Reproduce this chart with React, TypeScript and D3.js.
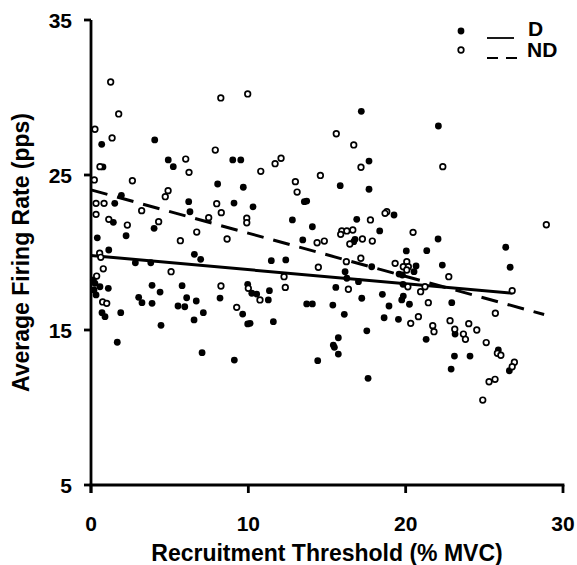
import React from "react";
import * as d3 from "d3";

// Motor unit data: recruitment threshold (% MVC) vs average firing rate (pps)
const dX = [0.68, 4.05, 4.91, 5.23, 9.01, 9.52, 17.18, 17.67, 22.08, 0.76, 8.05, 9.68, 1.93, 1.51, 6.21, 9.09, 6.29, 1.42, 4.01, 2.23, 0.40, 1.13, 6.57, 6.97, 2.82, 3.80, 0.15, 0.25, 0.57, 0.32, 0.19, 1.10, 3.88, 4.39, 5.79, 9.96, 3.03, 3.24, 3.88, 6.08, 5.53, 5.96, 6.69, 8.20, 7.14, 6.55, 4.45, 1.89, 0.70, 0.89, 9.64, 9.96, 15.84, 17.67, 13.56, 13.71, 10.30, 12.80, 14.07, 19.26, 16.89, 18.35, 16.78, 16.70, 13.46, 20.04, 11.46, 12.38, 17.84, 16.15, 16.26, 19.58, 19.79, 17.00, 19.83, 15.56, 10.22, 10.53, 11.34, 11.27, 18.52, 19.85, 19.75, 17.21, 13.71, 14.07, 15.37, 18.94, 20.24, 16.10, 18.63, 19.54, 11.59, 10.11, 17.53, 15.72, 15.40, 15.47, 15.72, 14.41, 17.61, 1.67, 7.06, 9.11, 22.06, 21.34, 26.36, 26.64, 22.33, 20.66, 20.53, 22.93, 21.30, 23.14, 23.10, 24.09, 22.89, 25.89, 26.59];
const dY = [26.98, 27.26, 25.97, 25.54, 25.97, 25.97, 29.11, 25.90, 28.16, 25.52, 24.42, 24.21, 23.69, 23.17, 23.28, 23.19, 22.63, 21.95, 21.56, 21.08, 20.95, 20.16, 19.88, 19.56, 19.34, 19.34, 18.23, 18.01, 17.79, 17.26, 17.58, 17.69, 17.88, 17.45, 17.86, 17.95, 17.11, 16.76, 16.72, 17.08, 16.55, 16.50, 16.87, 17.06, 16.12, 15.65, 15.30, 16.12, 16.12, 15.86, 16.03, 15.39, 24.31, 24.08, 23.28, 23.32, 22.95, 22.10, 21.66, 22.42, 22.14, 21.39, 20.85, 20.70, 20.81, 20.10, 19.47, 19.52, 19.08, 18.76, 18.34, 18.61, 18.55, 18.12, 17.95, 17.75, 17.37, 17.32, 17.54, 16.94, 17.30, 17.19, 16.94, 17.05, 16.68, 16.68, 16.61, 16.55, 16.66, 16.01, 15.79, 15.69, 15.54, 15.43, 14.95, 14.50, 14.03, 13.88, 13.45, 13.02, 11.88, 14.21, 13.54, 13.06, 20.87, 20.12, 20.34, 19.05, 19.19, 19.13, 18.76, 16.76, 14.40, 14.74, 13.32, 13.32, 12.48, 13.71, 12.37];

const ndX = [1.25, 1.76, 0.25, 1.34, 0.57, 6.02, 6.23, 8.25, 9.96, 7.90, 15.59, 16.70, 12.08, 11.70, 10.79, 14.58, 17.16, 22.36, 0.21, 2.63, 4.90, 4.72, 0.32, 0.83, 3.22, 7.99, 8.28, 0.32, 1.13, 2.31, 4.30, 7.48, 9.90, 9.90, 6.72, 5.68, 8.65, 0.55, 0.62, 0.78, 5.09, 0.36, 8.26, 0.74, 1.00, 9.26, 12.99, 13.10, 18.80, 18.69, 17.76, 20.47, 15.94, 16.26, 16.64, 15.87, 17.25, 16.45, 17.88, 14.37, 14.83, 17.15, 14.45, 16.23, 19.33, 20.07, 19.85, 20.17, 20.07, 20.14, 12.27, 12.35, 16.36, 10.00, 10.74, 20.32, 28.94, 22.74, 21.23, 20.95, 21.44, 26.77, 25.70, 20.81, 21.72, 21.80, 22.82, 23.12, 24.01, 24.52, 23.67, 23.80, 25.12, 25.83, 26.05, 26.91, 26.77, 25.30, 25.68, 24.90];
const ndY = [31.00, 28.94, 27.95, 27.39, 25.54, 26.03, 25.17, 29.97, 30.23, 26.61, 27.66, 26.94, 26.08, 25.73, 25.24, 24.97, 25.50, 25.54, 24.68, 24.63, 23.99, 23.60, 23.17, 23.17, 22.70, 23.15, 22.57, 22.46, 22.14, 21.77, 21.99, 22.25, 22.21, 21.92, 21.32, 20.76, 20.87, 19.95, 19.69, 18.95, 18.76, 18.48, 17.84, 16.81, 16.72, 16.46, 24.57, 23.90, 22.63, 22.53, 22.10, 21.30, 21.39, 21.39, 21.45, 21.17, 20.87, 20.55, 20.74, 20.63, 20.74, 19.63, 19.05, 19.41, 19.30, 19.41, 19.08, 19.08, 18.87, 17.79, 18.44, 17.75, 17.63, 17.69, 16.94, 15.43, 21.79, 18.44, 17.79, 17.47, 16.76, 17.54, 16.08, 15.86, 15.28, 14.89, 15.60, 15.05, 15.41, 15.00, 14.74, 14.40, 14.19, 13.50, 13.37, 12.92, 12.63, 11.66, 11.82, 10.48];

// Regression lines: [x0, y0, x1, y1]
const dFit = [0, 19.8, 26.8, 17.37];
const ndFit = [0, 24.04, 28.8, 16.0];

const xTicks = [0, 10, 20, 30];
const yTicks = [5, 15, 25, 35];
const xTitle = "Recruitment Threshold (% MVC)";
const yTitle = "Average Firing Rate (pps)";
const legendLabels = ["D", "ND"];

const W = 577;
const H = 565;
const FONT = "'Liberation Sans', Arial, Helvetica, sans-serif";

export default function App() {
  const x = d3.scaleLinear().domain([0, 30]).range([91, 563]);
  const y = d3.scaleLinear().domain([5, 35]).range([485, 20]);
  const line = d3
    .line<[number, number]>()
    .x((d) => x(d[0]))
    .y((d) => y(d[1]));

  const dPts = dX.map((v, i) => [v, dY[i]]);
  const ndPts = ndX.map((v, i) => [v, ndY[i]]);

  return (
    <div style={{ position: "absolute", left: 0, top: 0 }}>
      <svg width={W} height={H} viewBox={`0 0 ${W} ${H}`} style={{ display: "block", background: "#fff" }}>
        <rect width={W} height={H} fill="#fff" />

        {/* axes */}
        <g stroke="#000" strokeWidth={2.8} fill="none">
          <line x1={x(0)} x2={x(0)} y1={y(35)} y2={y(5) + 8} />
          <line x1={x(0) - 1.4} x2={x(30) + 1.4} y1={y(5)} y2={y(5)} />
          {yTicks.map((t) => (
            <line key={"yt" + t} x1={x(0) - 7} x2={x(0)} y1={y(t)} y2={y(t)} />
          ))}
          {xTicks.map((t) => (
            <line key={"xt" + t} x1={x(t)} x2={x(t)} y1={y(5)} y2={y(5) + 8} />
          ))}
        </g>

        {/* tick labels */}
        <g fontFamily={FONT} fontWeight="bold" fontSize={21} fill="#000">
          {yTicks.map((t) => (
            <text key={"yl" + t} x={72} y={y(t)} dy="0.36em" textAnchor="end">
              {t}
            </text>
          ))}
          {xTicks.map((t) => (
            <text key={"xl" + t} x={x(t)} y={531} textAnchor="middle">
              {t}
            </text>
          ))}
        </g>

        {/* axis titles */}
        <g fontFamily={FONT} fontWeight="bold" fontSize={23} fill="#000">
          <text x={(x(0) + x(30)) / 2} y={561} textAnchor="middle">
            {xTitle}
          </text>
          <text transform={`translate(29, ${(y(5) + y(35)) / 2}) rotate(-90)`} textAnchor="middle">
            {yTitle}
          </text>
        </g>

        {/* regression lines */}
        <path
          d={line([[dFit[0], dFit[1]], [dFit[2], dFit[3]]]) || ""}
          stroke="#000"
          strokeWidth={3}
          fill="none"
        />
        <path
          d={line([[ndFit[0], ndFit[1]], [ndFit[2], ndFit[3]]]) || ""}
          stroke="#000"
          strokeWidth={3}
          strokeDasharray="17 10"
          fill="none"
        />

        {/* data points */}
        <g>
          {dPts.map((p, i) => (
            <circle key={"d" + i} cx={x(p[0])} cy={y(p[1])} r={3.4} fill="#000" />
          ))}
          {ndPts.map((p, i) => (
            <circle key={"n" + i} cx={x(p[0])} cy={y(p[1])} r={2.8} fill="#fff" stroke="#000" strokeWidth={1.7} />
          ))}
        </g>

        {/* legend */}
        <g>
          <circle cx={461} cy={31} r={3.4} fill="#000" />
          <circle cx={461} cy={50} r={2.8} fill="#fff" stroke="#000" strokeWidth={1.7} />
          <line x1={487} x2={514} y1={38} y2={38} stroke="#000" strokeWidth={1.8} />
          <line x1={487} x2={521} y1={58} y2={58} stroke="#000" strokeWidth={1.8} strokeDasharray="11 8" />
          <text x={528} y={36} fontFamily={FONT} fontWeight="bold" fontSize={21} fill="#000">
            {legendLabels[0]}
          </text>
          <text x={527} y={57} fontFamily={FONT} fontWeight="bold" fontSize={21} fill="#000">
            {legendLabels[1]}
          </text>
        </g>
      </svg>
    </div>
  );
}
